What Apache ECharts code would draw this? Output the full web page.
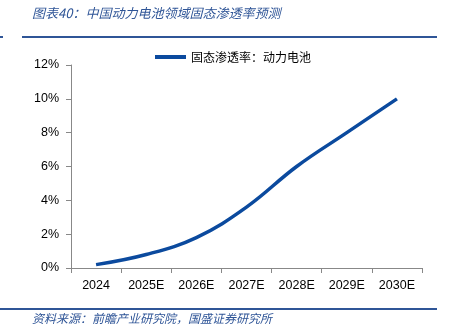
<!DOCTYPE html>
<html><head><meta charset="utf-8">
<script src="https://cdn.jsdelivr.net/npm/echarts@6/dist/echarts.min.js"></script>
<style>html,body{margin:0;padding:0;background:#fff}#c{width:449px;height:332px}</style>
</head><body><div id="c"></div>
<script>
const categories = ['2024','2025E','2026E','2027E','2028E','2029E','2030E'];
const penetration = [0.2, 0.8, 1.8, 3.6, 6.0, 8.0, 10.0];
const seriesName = '固态渗透率：动力电池';
const titleText = '图表40：中国动力电池领域固态渗透率预测';
const sourceText = '资料来源：前瞻产业研究院，国盛证券研究所';

const chart = echarts.init(document.getElementById('c'), null, {renderer:'canvas'});
const blue = '#0B4A9E';
const cjk = '"Noto Sans CJK SC", sans-serif';
const lat = '"Liberation Sans", Arial, sans-serif';
chart.setOption({
  animation:false,
  backgroundColor:'#fff',
  grid:{left:71, right:27, top:65, bottom:64},
  legend:{
    top:46, left:150,
    itemWidth:31, itemHeight:4, itemGap:6,
    icon:'rect',
    textStyle:{fontFamily:cjk, fontSize:12, color:'#000'},
    data:[{name:seriesName, icon:'rect'}]
  },
  xAxis:{
    type:'category', data:categories, boundaryGap:true,
    axisLine:{lineStyle:{color:'#888', width:1}},
    axisTick:{show:true, length:5, interval:0, lineStyle:{color:'#888'}},
    axisLabel:{color:'#000', fontSize:12.5, fontFamily:lat, margin:11, interval:0}
  },
  yAxis:{
    type:'value', min:0, max:12, interval:2,
    axisLine:{show:true, lineStyle:{color:'#888', width:1}},
    axisTick:{show:true, length:5, lineStyle:{color:'#888'}},
    splitLine:{show:false},
    axisLabel:{color:'#000', fontSize:12.5, fontFamily:lat, margin:12, formatter:'{value}%'}
  },
  series:[{
    name:seriesName, type:'line', data:penetration, smooth:0.4,
    showSymbol:false, symbol:'none',
    lineStyle:{color:blue, width:3.5},
    itemStyle:{color:blue}
  }],
  graphic:[
    {type:'text', left:32, top:7, style:{text:titleText, fill:'#2F5597', font:'italic 13px "Noto Sans CJK SC", sans-serif'}},
    {type:'rect', shape:{x:22, y:36, width:415, height:2}, style:{fill:'#2F5597'}},
    {type:'rect', shape:{x:0, y:36, width:3, height:2}, style:{fill:'#2F5597'}},
    {type:'rect', shape:{x:0, y:308, width:437, height:2}, style:{fill:'#2F5597'}},
    {type:'text', left:32, top:312, style:{text:sourceText, fill:'#2F5597', font:'italic 12px "Noto Sans CJK SC", sans-serif'}}
  ]
});
</script></body></html>
